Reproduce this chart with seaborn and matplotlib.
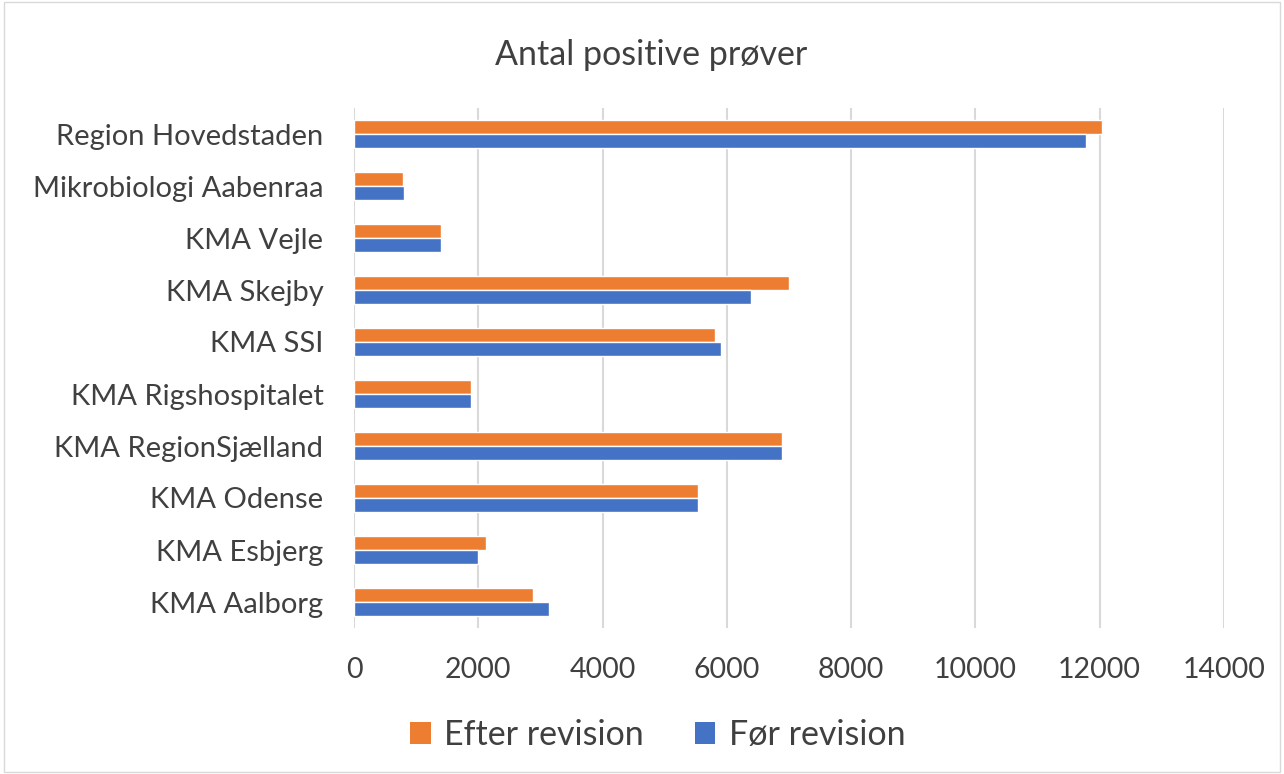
import matplotlib
matplotlib.use("Agg")
import matplotlib.pyplot as plt
import seaborn as sns
import pandas as pd
from matplotlib.patches import Patch

categories = ["Region Hovedstaden", "Mikrobiologi Aabenraa", "KMA Vejle", "KMA Skejby",
              "KMA SSI", "KMA Rigshospitalet", "KMA RegionSjælland", "KMA Odense",
              "KMA Esbjerg", "KMA Aalborg"]
efter = [12030, 790, 1400, 7000, 5810, 1880, 6880, 5530, 2130, 2880]
foer = [11780, 800, 1400, 6390, 5910, 1885, 6880, 5540, 2000, 3130]
series = ["Efter revision", "Før revision"]
colors = ["#ED7D31", "#4472C4"]
xticks = [0, 2000, 4000, 6000, 8000, 10000, 12000, 14000]

df = pd.DataFrame({
    "Kategori": categories * 2,
    "Værdi": efter + foer,
    "Serie": [series[0]] * len(categories) + [series[1]] * len(categories),
})

sns.set_theme(style="white")
plt.rcParams["font.family"] = ["Lato", "DejaVu Sans"]

fig = plt.figure(figsize=(12.84, 7.74), dpi=100)
ax = fig.add_axes([354 / 1284, 1 - 628 / 774, (1224 - 354) / 1284, (628 - 108) / 774])

sns.barplot(data=df, y="Kategori", x="Værdi", hue="Serie", hue_order=series,
            palette=colors, orient="h", width=0.54, dodge=True, ax=ax,
            saturation=1, legend=False, gap=0)

ax.set_xlim(0, 14000)
ax.set_xticks(xticks)
ax.set_xticklabels([str(t) for t in xticks], fontsize=20.5, color="#404040")
ax.tick_params(axis="y", labelsize=21, labelcolor="#404040", length=0, pad=22)
ax.tick_params(axis="x", length=0, pad=21)
ax.set_xlabel("")
ax.set_ylabel("")
ax.xaxis.grid(True, color="#D9D9D9", linewidth=1.5)
ax.set_axisbelow(True)
for s in ax.spines.values():
    s.set_visible(False)

fig.text(651 / 1284, 1 - 55 / 774, "Antal positive prøver", ha="center", va="center",
         fontsize=24.5, color="#404040")

handles = [Patch(facecolor=c, edgecolor="none") for c in colors]
fig.legend(handles, series, loc="center", bbox_to_anchor=(658 / 1284, 1 - 735 / 774),
           ncol=2, frameon=False, fontsize=24.5, handlelength=0.6, handleheight=0.6,
           columnspacing=1.5, handletextpad=0.4, labelcolor="#404040")

border = plt.Rectangle((0.003, 0.003), 0.994, 0.994, transform=fig.transFigure,
                       fill=False, edgecolor="#D9D9D9", linewidth=1)
fig.patches.append(border)

fig.savefig("out.png", dpi=100, facecolor="white")
